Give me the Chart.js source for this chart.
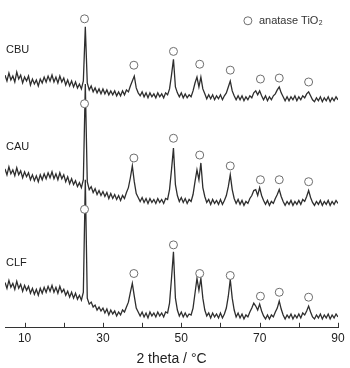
<!DOCTYPE html>
<html>
<head>
<meta charset="utf-8">
<script src="https://cdn.jsdelivr.net/npm/chart.js@4.4.1/dist/chart.umd.min.js"></script>
<style>
  html, body { margin: 0; padding: 0; background: #fff; }
  #wrap { width: 350px; height: 368px; }
</style>
</head>
<body>
<div id="wrap"><canvas id="xrd"></canvas></div>
<script>
// 2 theta grid, 5 -> 90 deg, every 0.5 deg
const angles = Array.from({ length: 171 }, (_, i) => 5 + i * 0.5);

// intensities (a.u., stacked with offset)
const cbu = [
  256,250,258,251,255,249,259,252,256,248,
  254,250,255,246,252,247,251,245,252,248,
  254,249,255,250,256,249,254,248,255,249,
  253,246,251,245,250,244,249,243,247,242,
  250,305,248,241,245,239,243,238,242,237,
  242,237,241,236,240,236,240,235,239,235,
  240,236,241,239,245,250,255,243,238,235,
  239,234,238,233,238,234,237,233,238,234,
  237,233,238,236,242,256,272,244,238,234,
  238,233,237,233,236,234,240,248,254,244,
  254,242,237,232,236,232,236,231,235,232,
  236,231,235,238,244,250,240,235,231,235,
  231,235,230,234,231,235,233,238,240,236,
  240,235,231,235,230,234,231,235,237,241,
  244,238,234,230,234,230,234,231,235,230,
  234,231,235,233,237,239,235,231,229,233,
  230,234,229,233,230,234,229,233,230,234,
  231
];
const cau = [
  161,155,163,156,160,154,162,155,159,152,
  158,153,157,150,155,149,154,148,155,150,
  156,151,157,152,158,151,156,150,157,151,
  155,148,153,146,151,145,149,143,147,142,
  150,247,148,140,143,137,141,135,139,134,
  138,133,137,131,136,131,135,130,134,129,
  134,131,137,142,152,164,148,136,132,128,
  132,127,131,126,131,127,130,126,131,127,
  130,126,131,130,140,160,182,145,134,128,
  132,127,131,126,130,128,135,148,160,150,
  167,142,133,127,130,125,130,126,129,125,
  130,125,129,134,143,155,140,131,126,130,
  125,129,124,128,126,131,134,139,140,134,
  142,134,129,125,129,124,128,126,131,135,
  140,133,128,124,128,125,129,124,128,125,
  129,125,130,128,133,139,132,127,124,128,
  125,129,124,128,125,129,124,128,125,129,
  126
];
const clf = [
  46,40,48,41,45,39,47,40,44,37,
  43,38,42,35,40,34,39,33,40,35,
  41,36,42,37,43,36,41,35,42,36,
  39,33,37,31,36,30,35,29,33,28,
  36,150,30,24,26,21,23,18,21,17,
  20,15,19,13,18,14,17,12,16,13,
  18,16,21,26,36,45,32,20,16,12,
  16,11,15,10,16,12,15,11,16,12,
  15,11,16,15,25,50,77,30,18,12,
  16,11,15,11,14,13,20,35,50,38,
  50,30,18,12,15,10,15,11,14,10,
  15,10,14,20,32,49,30,18,11,15,
  10,14,9,13,11,16,20,25,22,18,
  24,17,12,9,13,9,13,11,16,20,
  27,19,13,9,13,10,14,9,13,10,
  14,10,15,13,17,22,16,11,9,13,
  10,14,9,13,10,14,9,13,10,14,
  11
];

// anatase markers (2 theta, height) for each sample
const anataseTheta = [25.3, 37.9, 48.0, 54.7, 62.5, 70.2, 75.0, 82.5];
const cbuMarks = [313, 266, 280, 267, 261, 252, 253, 249];
const cauMarks = [227, 172, 192, 175, 164, 150, 150, 148];
const clfMarks = [120, 55, 84, 55, 53, 32, 36, 31];

const sampleNames = ["CBU", "CAU", "CLF"];
const sampleLabelY = [281, 183, 66];   // label height, same units

const legendText = "anatase TiO\u2082";
const legendPos = [67.0, 311];        // marker position (2 theta, height)

const tickValues = [10, 20, 30, 40, 50, 60, 70, 80, 90];
const tickLabels = [10, 30, 50, 70, 90];

const FONT = "'Liberation Sans', Arial, sans-serif";
const xy = (xs, ys) => xs.map((x, i) => ({ x: x, y: ys[i] }));

function markerSet(label, ys) {
  return {
    type: "scatter",
    label: label,
    data: xy(anataseTheta, ys),
    pointStyle: "circle",
    pointRadius: 4,
    pointBackgroundColor: "#fff",
    pointBorderColor: "#6e6e6e",
    pointBorderWidth: 1,
    order: 0,
    clip: false
  };
}
function traceSet(label, ys) {
  return {
    type: "line",
    label: label,
    data: xy(angles, ys),
    borderColor: "#2e2e2e",
    borderWidth: 1.3,
    pointRadius: 0,
    tension: 0,
    order: 1
  };
}

// inward tick marks, sample names and the marker key
const decor = {
  id: "decor",
  afterDraw(chart) {
    const ctx = chart.ctx;
    const xs = chart.scales.x, ys = chart.scales.y;
    const bottom = chart.chartArea.bottom;
    ctx.save();
    ctx.strokeStyle = "#333";
    ctx.lineWidth = 1;
    tickValues.forEach(v => {
      const px = Math.round(xs.getPixelForValue(v)) + 0.5;
      ctx.beginPath();
      ctx.moveTo(px, bottom);
      ctx.lineTo(px, bottom - 5);
      ctx.stroke();
    });
    ctx.fillStyle = "#222";
    ctx.font = "11px " + FONT;
    ctx.textBaseline = "middle";
    sampleNames.forEach((n, i) => {
      ctx.fillText(n, 6, ys.getPixelForValue(sampleLabelY[i]));
    });
    // key
    const kx = xs.getPixelForValue(legendPos[0]);
    const ky = ys.getPixelForValue(legendPos[1]);
    ctx.beginPath();
    ctx.arc(kx, ky, 4, 0, Math.PI * 2);
    ctx.fillStyle = "#fff";
    ctx.fill();
    ctx.strokeStyle = "#6e6e6e";
    ctx.stroke();
    ctx.fillStyle = "#333";
    ctx.fillText(legendText, kx + 11, ky);
    ctx.restore();
  }
};

new Chart(document.getElementById("xrd"), {
  data: {
    datasets: [
      markerSet("CBU anatase", cbuMarks),
      markerSet("CAU anatase", cauMarks),
      markerSet("CLF anatase", clfMarks),
      traceSet("CBU", cbu),
      traceSet("CAU", cau),
      traceSet("CLF", clf)
    ]
  },
  options: {
    responsive: true,
    maintainAspectRatio: false,
    animation: false,
    layout: { padding: { left: 3, right: 12, top: 0, bottom: 0 } },
    plugins: {
      tooltip: { enabled: false },
      legend: { display: false }
    },
    scales: {
      x: {
        type: "linear",
        min: 5,
        max: 90,
        afterBuildTicks: s => { s.ticks = tickValues.map(v => ({ value: v })); },
        grid: { display: false, drawTicks: false },
        border: { display: true, color: "#333", width: 1 },
        ticks: {
          autoSkip: false,
          maxRotation: 0,
          padding: 4,
          color: "#222",
          font: { family: FONT, size: 12 },
          callback: v => tickLabels.includes(v) ? String(v) : ""
        },
        title: {
          display: true,
          text: "2 theta / \u00b0C",
          color: "#222",
          padding: { top: 1, bottom: 0 },
          font: { family: FONT, size: 14 }
        }
      },
      y: {
        display: false,
        min: 0,
        max: 327
      }
    }
  },
  plugins: [decor]
});
</script>
</body>
</html>
